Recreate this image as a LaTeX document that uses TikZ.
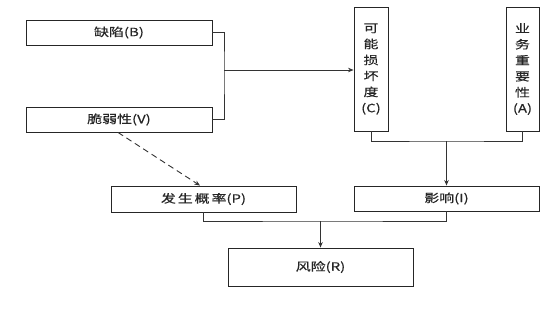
\documentclass[tikz,border=0pt]{standalone}
\usepackage{fontspec}
\setmainfont{Noto Sans CJK SC}[FakeStretch=1.3,FakeBold=0.4]
\usetikzlibrary{arrows.meta}
\begin{document}
\begin{tikzpicture}[x=1pt,y=-1pt,
  box/.style={draw=black!85,line width=0.9pt,inner sep=0pt,text=black!85,font=\fontsize{11.5}{15}\selectfont},
  vbox/.style={box,align=center,font=\fontsize{11.5}{16}\selectfont},
  conn/.style={draw=black!80,line width=0.9pt},
  arr/.style={conn,-{Stealth[length=5.5pt,width=4.5pt]}}]
\useasboundingbox (0,0) rectangle (560,309);
\node[box,minimum width=186pt,minimum height=25pt] (B) at (119,32.5) {缺陷(B)};
\node[box,minimum width=186pt,minimum height=25pt] (V) at (119,119.5) {脆弱性(V)};
\node[vbox,minimum width=34pt,minimum height=124pt] (C) at (371,69) {可\\能\\损\\坏\\度\\(C)};
\node[vbox,minimum width=33pt,minimum height=124pt] (A) at (522.5,69) {业\\务\\重\\要\\性\\(A)};
\node[box,minimum width=185pt,minimum height=26pt] (P) at (203.5,199) {发\,生\,概\,率(P)};
\node[box,minimum width=185pt,minimum height=25pt] (I) at (446.5,198.5) {影响(I)};
\node[box,minimum width=185pt,minimum height=38pt] (R) at (320.5,267) {风险(R)};
\coordinate (j1) at (224,70);
\draw[conn] (B.east) -| (j1) |- (V.east);
\draw[arr] (j1) -- (j1 -| C.west);
\coordinate (j2) at (446.5,141);
\draw[conn] (C.south) |- (j2) -| (A.south);
\draw[arr] (j2) -- (I.north);
\coordinate (j3) at (320.5,221);
\draw[conn] (P.south) |- (j3) -| (I.south);
\draw[arr] (j3) -- (R.north);
\draw[conn,dashed,dash pattern=on 6pt off 4pt,-{Stealth[length=5.5pt,width=4.5pt]}] ([xshift=-1pt]V.south) -- ([xshift=-3.5pt]P.north);
\end{tikzpicture}
\end{document}
